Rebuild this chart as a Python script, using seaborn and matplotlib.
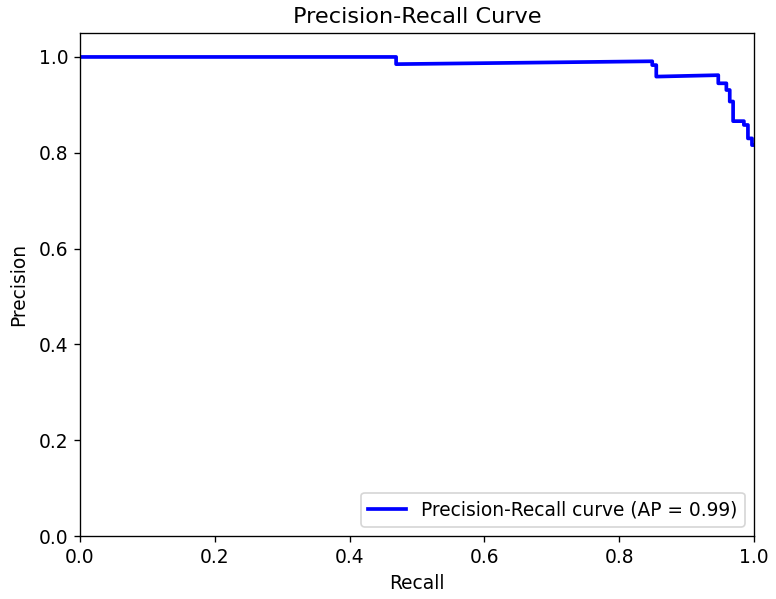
import matplotlib
matplotlib.use('Agg')
import matplotlib.pyplot as plt
import seaborn as sns
import pandas as pd

# Valores
recall = [0.0, 0.469, 0.469, 0.849, 0.849, 0.855, 0.855, 0.947, 0.947, 0.959, 0.959,
          0.964, 0.964, 0.969, 0.969, 0.985, 0.985, 0.991, 0.991, 0.997, 0.997, 1.0]
precision = [1.0, 1.0, 0.985, 0.991, 0.983, 0.983, 0.959, 0.962, 0.945, 0.945, 0.931,
             0.931, 0.907, 0.907, 0.866, 0.866, 0.858, 0.858, 0.830, 0.830, 0.816, 0.816]
ap = 0.99

df = pd.DataFrame({'Recall': recall, 'Precision': precision})

plt.rcParams['font.size'] = 11.1

fig, ax = plt.subplots(figsize=(776 / 121.25, 599 / 121.25), dpi=121.25)
sns.lineplot(data=df, x='Recall', y='Precision', sort=False, estimator=None,
             color='blue', linewidth=2.2, ax=ax,
             label=f'Precision-Recall curve (AP = {ap:.2f})')
ax.set_xlim(0.0, 1.0)
ax.set_ylim(0.0, 1.05)
ax.set_xlabel('Recall')
ax.set_ylabel('Precision', labelpad=6.5)
ax.set_title('Precision-Recall Curve')
ax.legend(loc='lower right')
fig.subplots_adjust(left=80 / 776, right=754 / 776, top=1 - 33 / 599, bottom=1 - 536 / 599)
fig.savefig('out.png', dpi=121.25)
